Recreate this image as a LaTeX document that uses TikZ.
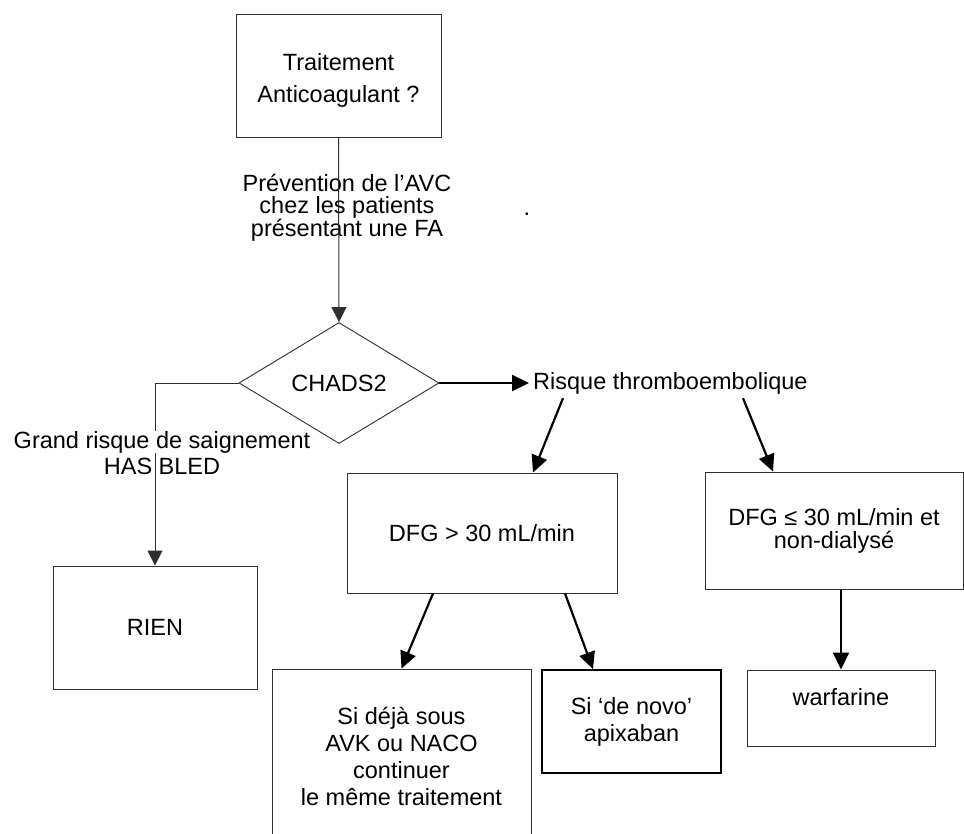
\documentclass[tikz,border=0pt]{standalone}
\usepackage{fontspec}
\setmainfont{Liberation Sans}
\usetikzlibrary{arrows.meta,shapes.geometric}
\definecolor{textcolor}{HTML}{000000}
\definecolor{edgecolor}{HTML}{303030}
\tikzset{
  base/.style={align=center, inner sep=0pt, text=textcolor, font=\fontsize{23.5}{23}\selectfont},
  box/.style={base, draw=edgecolor, line width=1pt},
  boldbox/.style={box, draw=textcolor, line width=1.8pt},
  decision/.style={base, diamond, draw=edgecolor, line width=0.9pt},
  note/.style={base},
  edge/.style={-{Triangle[length=17pt,width=16pt]}, draw=textcolor, line width=2.2pt},
  thinedge/.style={-{Triangle[length=15pt,width=15pt]}, draw=edgecolor, line width=1pt},
}

\begin{document}
\begin{tikzpicture}[x=1pt,y=-1pt]
  \useasboundingbox (0,0) rectangle (964,833);
  \clip (0,0) rectangle (964,833);

  \node[box, minimum width=205pt, minimum height=123pt, font=\fontsize{23.5}{32}\selectfont] (treat) at (338.5,75.5) {\rule{0pt}{26pt}Traitement\\ Anticoagulant ?};
  \node[note, font=\fontsize{23.5}{21.5}\selectfont] (prevlbl) at (347,208) {Prévention de l’AVC\\ chez les patients\\ présentant une FA};
  \node[note] (stray) at (527,214) {.};

  \node[decision, minimum width=200pt, minimum height=121pt] (chads) at (339,383) {CHADS2};
  \node[note, anchor=west, inner sep=4pt] (risk) at (529,383) {Risque thromboembolique};

  \node[box, minimum width=204pt, minimum height=123pt] (rien) at (155,627.5) {RIEN};
  \draw[thinedge] (chads.west) -| (rien.north);
  \node[note, font=\fontsize{23.5}{26}\selectfont] (bleedlbl) at (162,453)
    {{\setlength{\fboxsep}{0pt}\colorbox{white}{Grand risque de saignement}}\\ HAS BLED};

  \node[box, minimum width=270pt, minimum height=120pt] (dfghigh) at (482,533) {DFG > 30 mL/min};
  \node[box, minimum width=258pt, minimum height=117pt] (dfglow) at (834,530.5) {DFG ≤ 30 mL/min et\\ non-dialysé};

  \node[box, minimum width=259pt, minimum height=174pt, font=\fontsize{23.5}{27}\selectfont] (dejasous) at (401.5,756)
    {Si déjà sous\\ AVK ou NACO\\ continuer\\ le même traitement};
  \node[boldbox, minimum width=179pt, minimum height=103pt, font=\fontsize{23.5}{27}\selectfont] (apix) at (631.5,721.5) {Si ‘de novo’\\ apixaban};
  \node[box, minimum width=188pt, minimum height=76pt] (warf) at (841,708) {warfarine\\ \mbox{}};

  \draw[thinedge] (treat.south) -- (chads.north);
  \draw[edge] (chads.east) -- (risk.west);

  \draw[edge] ([xshift=34pt]risk.south west) -- ([xshift=51pt]dfghigh.north);
  \draw[edge] ([xshift=214pt]risk.south west) -- ([xshift=-61pt]dfglow.north);
  \draw[edge] ([xshift=-49pt]dfghigh.south) -- (dejasous.north);
  \draw[edge] ([xshift=83pt]dfghigh.south) -- ([xshift=-38.5pt]apix.north);
  \draw[edge] (dfglow.south -| warf.north) -- (warf.north);
\end{tikzpicture}
\end{document}
